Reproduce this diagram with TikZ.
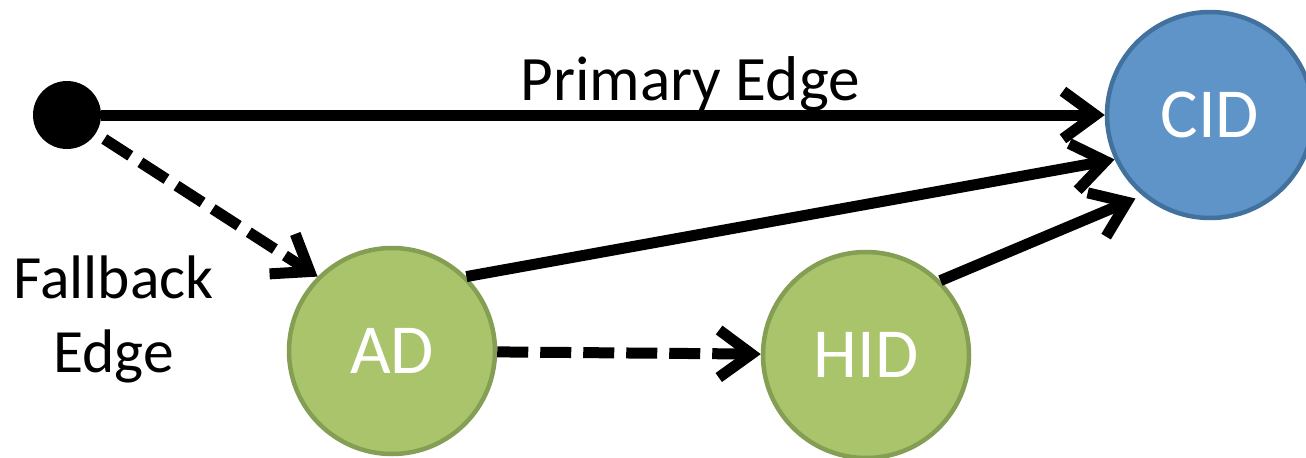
\documentclass[tikz,border=0pt]{standalone}
\usepackage{fontspec}
\setmainfont{Carlito}
\usetikzlibrary{arrows.meta,positioning}
\definecolor{lookupgreen}{RGB}{169,196,107}
\definecolor{lookupgreenline}{RGB}{132,158,83}
\definecolor{lookupblue}{RGB}{94,148,200}
\definecolor{lookupblueline}{RGB}{65,113,156}

\begin{document}
\begin{tikzpicture}[
    state/.style={circle, draw, line width=0.09cm, minimum size=4.12cm, inner sep=0pt, font=\fontsize{40}{48}\selectfont, text=white},
    edgelabel/.style={font=\fontsize{35}{42}\selectfont, text=black},
    link/.style={line width=0.22cm, -{Straight Barb[length=0.65cm, width=0.95cm]}},
    fallback/.style={link, dash pattern=on 0.62cm off 0.24cm}
]
    \useasboundingbox (0,0) rectangle (26.12,9.14);

    % Entry point
    \node[circle, fill=black, minimum size=1.36cm, inner sep=0pt] (start) at (1.34, 6.84) {};

    % Lookup stages
    \node[state, fill=lookupblue, draw=lookupblueline] (cid) at (24.2, 6.84) {CID};
    \node[state, fill=lookupgreen, draw=lookupgreenline] (ad) at (7.84, 2.12) {AD};
    \node[state, fill=lookupgreen, draw=lookupgreenline] (hid) at (17.32, 2.04) {HID};

    % Labels
    \node[edgelabel, font=\fontsize{36}{42}\selectfont, anchor=base] (primary) at (13.8, 7.14) {Primary Edge};
    \node[edgelabel, align=center, anchor=base] (fallback) at (2.27, 1.70) {Fallback\\Edge};

    % Primary edges
    \draw[link] (start) -- (cid.west);
    \draw[link] (ad.north east) -- (cid.205);
    \draw[link, shorten >=0.15cm] (hid.north east) -- (cid.230);

    % Fallback edges
    \draw[fallback, shorten <=0.2cm] (start) -- (ad.north west);
    \draw[fallback] (ad) -- (hid);

\end{tikzpicture}
\end{document}
